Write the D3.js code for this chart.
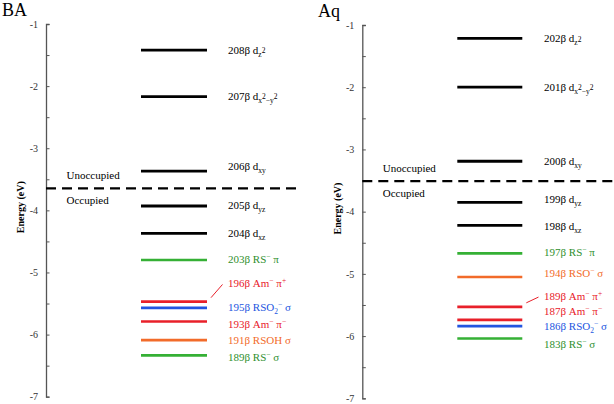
<!DOCTYPE html>
<html><head><meta charset="utf-8">
<script src="https://cdn.jsdelivr.net/npm/d3@7"></script>
<style>body{margin:0;background:#fff}svg{display:block}</style>
</head><body>
<svg id="c" width="614" height="404"></svg>
<script>
// ---- data ----
const yTicks = [-1, -2, -3, -4, -5, -6, -7];
const yMinorTicks = [-1.5, -2.5, -3.5, -4.5, -5.5, -6.5];

const baEnergies = [-1.42, -2.17, -3.37, -3.93, -4.37, -4.80, -5.47, -5.57, -5.79, -6.09, -6.335];
const baColors   = ["k", "k", "k", "k", "k", "g", "r", "b", "r", "o", "g"];
const baLabels   = ["208β d_{z}&{2}", "207β d_{x}&{2}_{−y}&{2}", "206β d_{xy}", "205β d_{yz}", "204β d_{xz}",
                    "203β RS^{−} π", "196β Am^{−} π^{+}", "195β RSO_{2}^{−} σ", "193β Am^{−} π^{−}",
                    "191β RSOH σ", "189β RS^{−} σ"];
const baLabelEnergies = [-1.42, -2.16, -3.29, -3.915, -4.366, -4.785, -5.177, -5.552, -5.831, -6.089, -6.362];
const baFermi = -3.646;

const aqEnergies = [-1.214, -2.0, -3.19, -3.85, -4.22, -4.67, -5.05, -5.53, -5.74, -5.84, -6.04];
const aqColors   = ["k", "k", "k", "k", "k", "g", "o", "r", "r", "b", "g"];
const aqLabels   = ["202β d_{z}&{2}", "201β d_{x}&{2}_{−y}&{2}", "200β d_{xy}", "199β d_{yz}", "198β d_{xz}",
                    "197β RS^{−} π", "194β RSO^{−} σ", "189β Am^{−} π^{+}", "187β Am^{−} π^{−}",
                    "186β RSO_{2}^{−} σ", "183β RS^{−} σ"];
const aqLabelEnergies = [-1.214, -1.997, -3.186, -3.80, -4.227, -4.654, -4.992, -5.357, -5.598, -5.839, -6.133];
const aqFermi = -3.51;

const lineColors = {k: "#000000", g: "#35b035", r: "#e8202a", b: "#2255e0", o: "#f26b2a"};
const textColors = {k: "#000000", g: "#2e8f2e", r: "#e8202a", b: "#2255e0", o: "#f26b2a"};

// ---- drawing ----
const svg = d3.select("#c");
svg.append("rect").attr("width", 614).attr("height", 404).attr("fill", "#fff");
const FONT = "'Liberation Serif','Times New Roman',serif";

function parseLabel(str) {
  // _{..} subscript, ^{..} superscript, &{..} superscript of a subscript
  const out = [];
  const re = /([_^&])\{([^}]*)\}|([^_^&]+)/g;
  let m;
  while ((m = re.exec(str)) !== null) {
    if (m[3] !== undefined) out.push({t: m[3], lvl: "n"});
    else out.push({t: m[2], lvl: m[1] === "_" ? "sub" : (m[1] === "^" ? "sup" : "subsup")});
  }
  return out;
}
const shifts = {n: 0, sub: 3, sup: -4, subsup: -0.5};

function panel(cfg) {
  const g = svg.append("g");
  const y = d3.scaleLinear().domain([-1, -7]).range(cfg.yRange);

  // axis
  const axis = d3.axisLeft(y).tickValues(yTicks).tickFormat(d => String(d))
    .tickSizeInner(-3.5).tickSizeOuter(-3.5).tickPadding(8);
  const ax = g.append("g").attr("transform", `translate(${cfg.axisX},0)`).call(axis)
    .attr("font-family", FONT);
  ax.select(".domain").attr("stroke", "#555").attr("stroke-width", 1.3);
  ax.selectAll(".tick line").attr("stroke", "#555").attr("stroke-width", 1);
  ax.selectAll(".tick text").attr("font-family", FONT).attr("font-size", 10).attr("fill", "#333");
  const minor = d3.axisLeft(y).tickValues(yMinorTicks).tickFormat("").tickSizeInner(-3.5).tickSizeOuter(0);
  const mx = g.append("g").attr("transform", `translate(${cfg.axisX},0)`).call(minor);
  mx.select(".domain").remove();
  mx.selectAll(".tick line").attr("stroke", "#555");

  // y label
  g.append("text").attr("transform", `translate(${cfg.ylabX},${y(-3.95)}) rotate(-90)`)
    .attr("text-anchor", "middle").attr("font-family", FONT).attr("font-weight", "bold")
    .attr("font-size", 10).text("Energy (eV)");

  // title
  g.append("text").attr("x", cfg.titleX).attr("y", cfg.titleY).attr("font-family", FONT)
    .attr("font-size", 18).text(cfg.title);

  // fermi dashed line
  g.append("line").attr("x1", cfg.axisX).attr("x2", cfg.dashX2)
    .attr("y1", y(cfg.fermi)).attr("y2", y(cfg.fermi))
    .attr("stroke", "#000").attr("stroke-width", 2.4).attr("stroke-dasharray", "10,6");
  g.append("text").attr("x", cfg.occX).attr("y", y(cfg.fermi) - 9).attr("font-family", FONT)
    .attr("font-size", 11).text("Unoccupied");
  g.append("text").attr("x", cfg.occX).attr("y", y(cfg.fermi) + 16).attr("font-family", FONT)
    .attr("font-size", 11).text("Occupied");

  // levels
  g.selectAll("line.lvl").data(cfg.energies).enter().append("line").attr("class", "lvl")
    .attr("x1", cfg.barX[0]).attr("x2", cfg.barX[1])
    .attr("y1", d => y(d)).attr("y2", d => y(d))
    .attr("stroke", (d, i) => lineColors[cfg.colors[i]])
    .attr("stroke-width", (d, i) => cfg.colors[i] === "k" ? 2.8 : 2.6);

  // labels
  cfg.labels.forEach((lab, i) => {
    const t = g.append("text").attr("x", cfg.labelX).attr("y", y(cfg.labelEnergies[i]) + 3.8)
      .attr("font-family", FONT).attr("font-size", 11).attr("fill", textColors[cfg.colors[i]]);
    let cur = 0;
    parseLabel(lab).forEach(seg => {
      const s = shifts[seg.lvl];
      const ts = t.append("tspan").attr("dy", s - cur).text(seg.t);
      if (seg.lvl !== "n") ts.attr("font-size", 7.5);
      cur = s;
    });
  });

  // connector for the label that is displaced from its level
  const ci = cfg.connIndex;
  g.append("line").attr("x1", cfg.barX[1] + 4).attr("y1", y(cfg.energies[ci]) - 4)
    .attr("x2", cfg.labelX - 5.5).attr("y2", y(cfg.labelEnergies[ci]) + 1)
    .attr("stroke", lineColors[cfg.colors[ci]]).attr("stroke-width", 1);
}

panel({title: "BA", titleX: 2, titleY: 16, axisX: 46, yRange: [24, 396.7], ylabX: 24,
  barX: [141, 207], labelX: 228, dashX2: 300, occX: 66.5, fermi: baFermi,
  energies: baEnergies, colors: baColors, labels: baLabels, labelEnergies: baLabelEnergies, connIndex: 6});
panel({title: "Aq", titleX: 318, titleY: 17, axisX: 362.3, yRange: [25, 398.3], ylabX: 341,
  barX: [457.3, 522.3], labelX: 544, dashX2: 614, occX: 382.7, fermi: aqFermi,
  energies: aqEnergies, colors: aqColors, labels: aqLabels, labelEnergies: aqLabelEnergies, connIndex: 7});
</script>
</body></html>
